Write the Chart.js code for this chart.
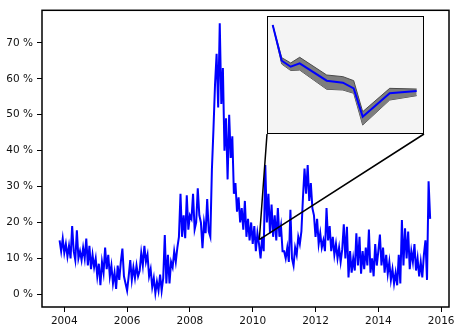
<!DOCTYPE html>
<html><head><meta charset="utf-8">
<script src="https://cdn.jsdelivr.net/npm/chart.js@4/dist/chart.umd.min.js"></script>
<style>
html,body{margin:0;padding:0;background:#fff;}
#wrap{position:relative;width:459px;height:328px;overflow:hidden;}
#main{position:absolute;left:0;top:0;}
#insetBox{position:absolute;left:266px;top:15px;width:159px;height:120px;}
</style></head><body>
<div id="wrap">
<canvas id="main" width="459" height="328"></canvas>
<div id="insetBox"><canvas id="inset" width="159" height="120"></canvas></div>
</div>
<script>
// ---- data ----
const sampleStartYear = 2003.85;
const sampleStepYears = 0.05;
const volatilityPct = [
  // 2003
  15, 12, 15.5,
  // 2004
  11.5, 14, 10.5, 13.5, 10, 19, 12, 9.5, 17.8, 10, 12, 9.5, 13, 10, 15.5, 8, 13.5, 7, 11, 7.5,
  // 2005
  10, 5, 8.5, 2.5, 9, 6, 13, 7, 11, 5, 8, 3, 6, 1.5, 8, 4, 9, 12.7, 5, 3,
  // 2006
  1, 5, 9.5, 4, 7.5, 4.5, 8, 5, 6.5, 11.5, 8, 13.5, 9, 11, 5, 7, 2, 4.5, 0.3, 3.5,
  // 2007
  1, 5.5, 1, 4.5, 16.5, 3, 11, 3, 9, 7.5, 12, 9, 13, 16, 28, 16, 22, 15.6, 27.6, 18,
  // 2008
  22, 21, 28, 18, 20, 29.5, 22, 20, 12.8, 20, 17, 26.5, 17.5, 16, 34.7, 46, 58.5, 67, 52, 75.5,
  // 2009
  53, 63, 40, 49, 32, 50, 38, 44, 28, 31, 23, 27, 20, 24, 18, 26, 16, 21, 15, 20,
  // 2010
  14, 19, 12, 17, 14, 10, 16, 12, 36, 20, 28, 17, 25, 16, 22, 15, 24, 16, 19, 12,
  // 2011
  12, 10, 13, 9, 23.5, 10, 8, 13, 11, 16, 14, 17.5, 27, 35, 28, 36, 26, 31, 24, 22,
  // 2012
  16, 21, 14, 17, 13, 15, 12, 24, 15, 19, 12, 16, 11, 14, 10, 13, 9, 12.5, 19.5, 10,
  // 2013
  18.8, 4.7, 12, 6, 10, 6.6, 17, 8, 16, 5.7, 12, 7, 13, 8, 18, 6, 10, 5, 14, 8,
  // 2014
  12, 16.6, 8, 13, 6, 11, 5.7, 9, 4, 7, 3, 6, 2.5, 11, 3, 20.7, 8, 18.4, 10, 17.5,
  // 2015
  7, 12, 9, 14, 6.6, 10, 5, 9, 4.7, 11, 15, 4, 31.5, 21
];
const xTickYears = [2004, 2006, 2008, 2010, 2012, 2014, 2016];
const yTickPct = [0, 10, 20, 30, 40, 50, 60, 70];

// zoomed spot that the inset magnifies
const zoomYear = 2010.21;
const zoomPct = 15.2;

// inset series (zoomed detail)
const insetDay   = [0, 5, 10, 15, 30, 39, 45, 50, 65, 80];
const insetMid   = [19.24, 16.21, 15.70, 15.99, 14.52, 14.35, 13.87, 11.47, 13.45, 13.64];
const insetUpper = [19.24, 16.47, 16.02, 16.50, 15.00, 14.86, 14.52, 11.89, 13.87, 13.81];
const insetLower = [19.24, 15.93, 15.38, 15.42, 13.79, 13.73, 13.45, 10.76, 12.88, 13.25];

// ---- charts ----
const FONT = {family: "'DejaVu Sans', sans-serif", size: 10.5};
const pairs = (xs, ys) => ys.map((y, i) => ({x: xs[i], y}));

const insetChart = new Chart(document.getElementById('inset'), {
  type: 'line',
  data: {
    datasets: [
      {data: pairs(insetDay, insetMid), borderColor: '#0000ff', borderWidth: 2, pointRadius: 0, fill: false, tension: 0},
      {data: pairs(insetDay, insetUpper), borderColor: '#4a4a4a', borderWidth: 1, backgroundColor: '#7d7d7d', pointRadius: 0, fill: '+1', tension: 0},
      {data: pairs(insetDay, insetLower), borderColor: '#4a4a4a', borderWidth: 1, pointRadius: 0, fill: false, tension: 0}
    ]
  },
  options: {
    responsive: false, animation: false, events: [],
    layout: {padding: 1},
    plugins: {legend: {display: false}, tooltip: {enabled: false}},
    scales: {
      x: {type: 'linear', display: false, min: -3.17, max: 84.06},
      y: {type: 'linear', display: false, min: 10, max: 20}
    }
  },
  plugins: [{
    id: 'insetFrame',
    beforeDraw(c) {
      const a = c.chartArea, g = c.ctx;
      g.save(); g.fillStyle = '#f4f4f4'; g.fillRect(a.left, a.top, a.right - a.left, a.bottom - a.top); g.restore();
    },
    afterDraw(c) {
      const a = c.chartArea, g = c.ctx;
      g.save(); g.strokeStyle = '#000'; g.lineWidth = 1;
      g.strokeRect(a.left + 0.5, a.top + 0.5, a.right - a.left - 1, a.bottom - a.top - 1); g.restore();
    }
  }]
});

const insetBox = document.getElementById('insetBox');

new Chart(document.getElementById('main'), {
  type: 'line',
  data: {
    datasets: [{
      data: volatilityPct.map((v, i) => ({x: sampleStartYear + i * sampleStepYears, y: v})),
      borderColor: '#0000ff', borderWidth: 2, pointRadius: 0, fill: false, tension: 0
    }]
  },
  options: {
    responsive: false, animation: false, events: [],
    layout: {padding: {top: 4, right: 10, left: 0, bottom: 0}},
    plugins: {legend: {display: false}, tooltip: {enabled: false}},
    scales: {
      x: {
        type: 'linear', min: 2003.29, max: 2016.25,
        afterBuildTicks: s => { s.ticks = xTickYears.map(v => ({value: v})); },
        afterFit: s => { s.height = 21; },
        ticks: {font: FONT, color: '#111', padding: 3, maxRotation: 0, autoSkip: false, callback: v => String(v)},
        grid: {display: true, drawOnChartArea: false, drawTicks: true, tickLength: 5, color: '#000', lineWidth: 1},
        border: {display: false}
      },
      y: {
        type: 'linear', min: -3.55, max: 79.1,
        afterBuildTicks: s => { s.ticks = yTickPct.map(v => ({value: v})); },
        afterFit: s => { s.width = 42; },
        ticks: {font: FONT, color: '#111', padding: 4, autoSkip: false, callback: v => v + ' %'},
        grid: {display: true, drawOnChartArea: false, drawTicks: true, tickLength: 5, color: '#000', lineWidth: 1},
        border: {display: false}
      }
    }
  },
  plugins: [{
    id: 'frameAndConnectors',
    afterDatasetsDraw(c) {
      const g = c.ctx, a = c.chartArea;
      const ia = insetChart.chartArea;
      const ox = insetBox.offsetLeft, oy = insetBox.offsetTop;
      const px = c.scales.x.getPixelForValue(zoomYear);
      const py = c.scales.y.getPixelForValue(zoomPct);
      g.save();
      g.strokeStyle = '#000'; g.lineWidth = 1.5;
      g.beginPath();
      g.moveTo(ox + ia.left, oy + ia.bottom); g.lineTo(px, py);
      g.moveTo(ox + ia.right, oy + ia.bottom); g.lineTo(px, py);
      g.stroke();
      g.lineWidth = 1.5;
      g.strokeRect(a.left, a.top, a.right - a.left, a.bottom - a.top);
      g.restore();
    }
  }]
});
</script>
</body></html>
